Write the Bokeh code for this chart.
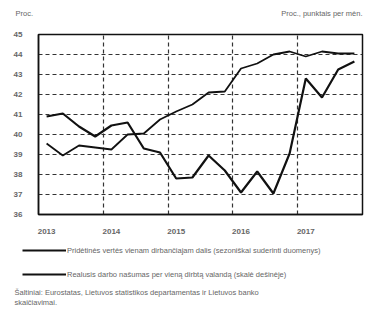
from bokeh.plotting import figure
from bokeh.layouts import column
from bokeh.models import FixedTicker, Legend, LegendItem, Label
from bokeh.embed import file_html
from bokeh.resources import INLINE

# quarterly data, 2013 Q1 .. 2017 Q4
quarters = [f"{y} Q{q}" for y in range(2013, 2018) for q in range(1, 5)]
x_pos = [2013 + (i + 0.5) / 4 for i in range(len(quarters))]

value_added_share = [39.55, 38.95, 39.45, 39.35, 39.25, 40.0, 40.05, 40.75, 41.15, 41.5,
                     42.1, 42.15, 43.3, 43.55, 44.0, 44.15, 43.9, 44.15, 44.05, 44.05]
productivity_growth = [40.9, 41.05, 40.4, 39.9, 40.45, 40.6, 39.3, 39.1, 37.8, 37.85,
                       38.95, 38.2, 37.1, 38.15, 37.05, 39.05, 42.8, 41.85, 43.25, 43.65]

year_labels = ["2013", "2014", "2015", "2016", "2017"]
y_ticks = [36, 37, 38, 39, 40, 41, 42, 43, 44, 45]

legend_1 = "Pridėtinės vertės vienam dirbančiajam dalis (sezoniškai suderinti duomenys)"
legend_2 = "Realusis darbo našumas per vieną dirbtą valandą (skalė dešinėje)"
source_1 = "Šaltiniai: Eurostatas, Lietuvos statistikos departamentas ir Lietuvos banko"
source_2 = "skaičiavimai."
left_unit = "Proc."
right_unit = "Proc., punktais per mėn."

FONT = "Liberation Sans"
GREY = "#666666"
LINE = "#111111"
W = 364
NAN = float("nan")


def blank_fig(h):
    f = figure(width=W, height=h, x_range=(0, 1), y_range=(0, 1),
               output_backend="svg", toolbar_location=None,
               x_axis_location=None, y_axis_location=None,
               min_border_left=0, min_border_right=0, min_border_top=0, min_border_bottom=0,
               frame_align=False)
    f.grid.visible = False
    f.outline_line_color = None
    f.background_fill_color = "white"
    f.border_fill_color = "white"
    return f


def add_text(f, txt, x, y, align="left"):
    f.add_layout(Label(x=x, y=y, x_units="screen", y_units="screen", text=txt,
                       text_font=FONT, text_font_size="7.5px", text_color=GREY,
                       text_align=align, text_baseline="middle"))


# --- top captions ---
top = blank_fig(30)
add_text(top, left_unit, 15, 17)
add_text(top, right_unit, 362, 17, align="right")

# --- main chart ---
p = figure(frame_width=324, frame_height=180, x_range=(2013, 2018), y_range=(36, 45),
           output_backend="svg", toolbar_location=None, frame_align=False,
           min_border_left=38, min_border_right=2, min_border_top=4, min_border_bottom=22)
p.background_fill_color = "white"
p.border_fill_color = "white"
p.outline_line_color = LINE
p.outline_line_width = 1.5

years = [int(s) for s in year_labels]
p.xaxis.ticker = FixedTicker(ticks=[y + 0.125 for y in years])
p.xaxis.major_label_overrides = {y + 0.125: s for y, s in zip(years, year_labels)}
p.xgrid.ticker = FixedTicker(ticks=years[1:])
p.yaxis.ticker = FixedTicker(ticks=y_ticks)
p.ygrid.ticker = FixedTicker(ticks=y_ticks[1:-1])

for g in (p.xgrid, p.ygrid):
    g.grid_line_color = "#333333"
    g.grid_line_dash = "4 3"
    g.grid_line_width = 1.2

for ax in (p.xaxis, p.yaxis):
    ax.major_tick_line_color = None
    ax.minor_tick_line_color = None
    ax.axis_line_color = LINE
    ax.axis_line_width = 1.5
    ax.major_label_text_font = FONT
    ax.major_label_text_font_size = "8px"
    ax.major_label_text_color = GREY
    ax.major_label_text_font_style = "bold"
p.yaxis.major_label_standoff = 10
p.xaxis.major_label_standoff = 8

p.line(x_pos, value_added_share, line_color=LINE, line_width=1.8)
p.line(x_pos, productivity_growth, line_color=LINE, line_width=2.2)

# --- legend and source ---
bottom = blank_fig(74)
g1 = bottom.line([NAN], [NAN], line_color=LINE, line_width=1.8)
g2 = bottom.line([NAN], [NAN], line_color=LINE, line_width=2.2)
legend = Legend(items=[LegendItem(label=legend_1, renderers=[g1]),
                       LegendItem(label=legend_2, renderers=[g2])],
                location=(22, 30), orientation="vertical",
                glyph_width=44, glyph_height=12, label_height=12, spacing=12,
                label_standoff=1, padding=0, margin=0,
                background_fill_alpha=0, border_line_color=None,
                label_text_font=FONT, label_text_font_size="7.5px", label_text_color=GREY)
bottom.add_layout(legend, "center")
add_text(bottom, source_1, 14, 18)
add_text(bottom, source_2, 14, 8)

layout = column(top, p, bottom, spacing=0)
open("out.html", "w").write(file_html(layout, INLINE))
